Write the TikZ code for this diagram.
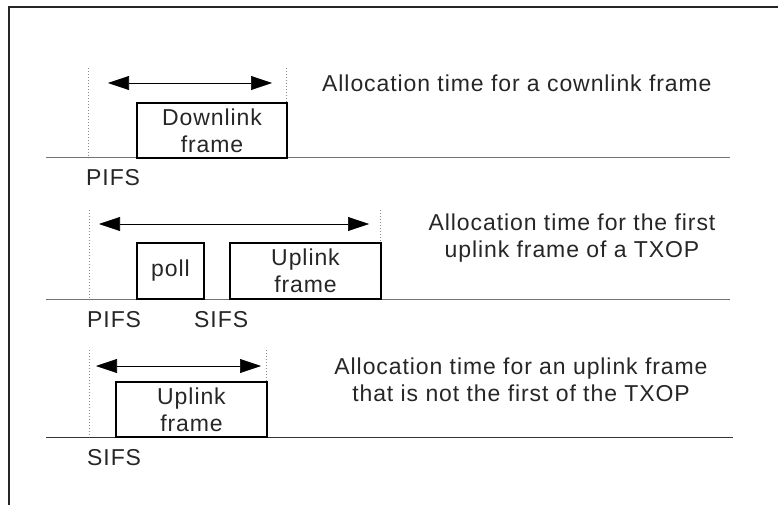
\documentclass[tikz,border=0pt]{standalone}
\usepackage{fontspec}
\setmainfont{Liberation Sans}[LetterSpace=4]
\usetikzlibrary{arrows.meta}
\begin{document}
\begin{tikzpicture}[x=1pt,y=-1pt,
  txt/.style={font=\fontsize{23}{27}\selectfont, text=black!85, inner sep=0pt},
  framebox/.style={draw=black, line width=1.1pt, txt, align=center, inner sep=0pt},
  dotline/.style={draw=black!45, dotted, line width=1pt},
  baseln/.style={draw=black!55, line width=1pt},
  alloc/.style={draw=black, line width=0.6pt, {Triangle[length=21pt,width=14pt]}-{Triangle[length=21pt,width=14pt]}}
]
\useasboundingbox (0,0) rectangle (778,505);
% outer border
\draw[line width=1.2pt, black!85] (9,505) -- (9,7) -- (778,7);

% ---- panel 1
\coordinate (b1l) at (46,158);
\coordinate (b1r) at (730,158);
\draw[baseln] (b1l) -- (b1r);
\coordinate (d1a) at (88,68); \coordinate (d1b) at (88,158);
\coordinate (d1c) at (286,68); \coordinate (d1d) at (286,103);
\draw[dotline] (d1a) -- (d1b);
\draw[dotline] (d1c) -- (d1d);
\node[framebox, minimum width=150pt, minimum height=55pt] (down) at (212,130.5) {Downlink\\frame};
\coordinate (a1l) at (108,83); \coordinate (a1r) at (272,83);
\draw[alloc] (a1l) -- (a1r);
\node[txt, anchor=west] (t1) at (322,83) {Allocation time for a cownlink frame};
\node[txt, anchor=west] (p1) at (86,178) {PIFS};

% ---- panel 2
\coordinate (b2l) at (46,299);
\coordinate (b2r) at (730,299);
\draw[baseln] (b2l) -- (b2r);
\coordinate (d2a) at (89,210); \coordinate (d2b) at (89,299);
\coordinate (d2c) at (380,210); \coordinate (d2d) at (380,243);
\draw[dotline] (d2a) -- (d2b);
\draw[dotline] (d2c) -- (d2d);
\node[framebox, minimum width=67pt, minimum height=56pt] (poll) at (170.5,271) {poll};
\node[framebox, minimum width=151pt, minimum height=56pt] (up1) at (305.5,271) {Uplink\\frame};
\coordinate (a2l) at (99,224); \coordinate (a2r) at (369,224);
\draw[alloc] (a2l) -- (a2r);
\node[txt, align=center] (t2) at (572,238) {Allocation time for the first\\uplink frame of a TXOP};
\node[txt, anchor=west] (p2) at (87,320) {PIFS};
\node[txt, anchor=west] (s2) at (194,320) {SIFS};

% ---- panel 3
\coordinate (b3l) at (46,437);
\coordinate (b3r) at (733,437);
\draw[draw=black!80, line width=1pt] (b3l) -- (b3r);
\coordinate (d3a) at (89,350); \coordinate (d3b) at (89,437);
\coordinate (d3c) at (266,350); \coordinate (d3d) at (266,382);
\draw[dotline] (d3a) -- (d3b);
\draw[dotline] (d3c) -- (d3d);
\node[framebox, minimum width=151pt, minimum height=55pt] (up2) at (191.5,409.5) {Uplink\\frame};
\coordinate (a3l) at (96,366); \coordinate (a3r) at (261,366);
\draw[alloc] (a3l) -- (a3r);
\node[txt, align=center] (t3) at (521,380) {Allocation time for an uplink frame\\that is not the first of the TXOP};
\node[txt, anchor=west] (s3) at (87,458) {SIFS};
\end{tikzpicture}
\end{document}
